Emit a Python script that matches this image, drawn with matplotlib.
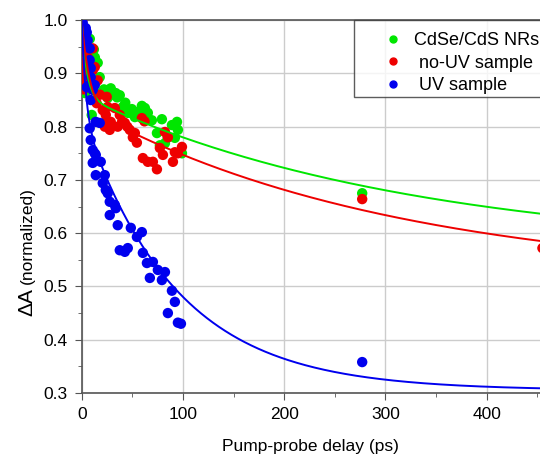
import matplotlib
matplotlib.use("Agg")
import matplotlib.pyplot as plt
from matplotlib.lines import Line2D
from matplotlib.ticker import MultipleLocator, FormatStrFormatter
import numpy as np

plt.rcParams['font.family'] = ['Liberation Sans', 'DejaVu Sans']

# --- measured points (delay in ps, normalized dA) ---
green_t = [1, 2, 3.3, 4.5, 6, 8, 9.9, 12, 13, 15.8, 17.8, 18.8, 22, 25.7, 27.7, 28.7, 31,
           33.7, 35, 37.6, 40.6, 43, 45.5, 49.5, 52.5, 56, 59.4, 62.4, 65.3, 69.3, 74.3,
           77.2, 79.2, 82.2, 85, 89.1, 92, 94.1, 95, 99, 277]
green_v = [0.875, 0.88, 0.863, 0.87, 0.9, 0.965, 0.822, 0.945, 0.93, 0.92, 0.893, 0.863,
           0.87, 0.854, 0.869, 0.872, 0.86, 0.863, 0.855, 0.859, 0.837, 0.845, 0.826, 0.833,
           0.818, 0.828, 0.839, 0.835, 0.826, 0.812, 0.788, 0.765, 0.814, 0.769, 0.78, 0.803,
           0.779, 0.809, 0.794, 0.75, 0.675]

red_t = [0.5, 1, 1.5, 2, 2.5, 3, 1, 2, 3.5, 4, 5, 6, 8, 10.9, 10.9, 12.9, 15.8, 14.8, 18,
         20.8, 22.8, 22.8, 23.8, 24.7, 25.7, 27.7, 28.7, 32.7, 35.6, 37.6, 40, 42.6, 45,
         47.5, 50.5, 52.5, 54.5, 59.4, 60.4, 62, 65.3, 70.3, 74.3, 77.2, 80.2, 82.2, 85.1,
         90.1, 92, 95, 99, 277, 455]
red_v = [1.0, 0.98, 0.96, 0.94, 0.92, 0.9, 0.89, 0.87, 0.95, 0.91, 0.88, 0.93, 0.9, 0.947,
         0.906, 0.912, 0.887, 0.844, 0.86, 0.831, 0.807, 0.8, 0.822, 0.856, 0.837, 0.794,
         0.809, 0.835, 0.8, 0.822, 0.81, 0.807, 0.8, 0.794, 0.78, 0.788, 0.77, 0.816, 0.741,
         0.81, 0.734, 0.734, 0.72, 0.76, 0.747, 0.79, 0.78, 0.734, 0.752, 0.75, 0.762,
         0.664, 0.572]

blue_t = [1, 2, 3, 4, 5, 5.9, 7.9, 7.9, 8.9, 8.9, 7.9, 5, 12.9, 10.9, 8.9, 13.9, 17.8, 7.9,
          8.9, 10.9, 12.9, 13.9, 10.9, 18.8, 13.9, 22.8, 20.8, 23.8, 25.7, 27.7, 32.7, 33.7,
          27.7, 35.6, 48.5, 59.4, 54.5, 37.6, 42.6, 45.5, 60.4, 64.4, 70.3, 75.2, 82.2, 67.3,
          79.2, 89.1, 92, 85.1, 95, 98, 277]
blue_v = [0.995, 0.975, 0.96, 0.985, 0.977, 0.962, 0.947, 0.925, 0.91, 0.893, 0.878, 0.874,
          0.878, 0.869, 0.85, 0.809, 0.807, 0.797, 0.775, 0.756, 0.75, 0.747, 0.732, 0.734,
          0.709, 0.709, 0.694, 0.681, 0.675, 0.659, 0.653, 0.647, 0.634, 0.615, 0.61, 0.602,
          0.593, 0.568, 0.565, 0.572, 0.563, 0.544, 0.546, 0.531, 0.527, 0.516, 0.512,
          0.492, 0.471, 0.45, 0.432, 0.43, 0.358]

# biexponential fit parameters: y0, A_slow, tau_slow, A_fast, tau_fast
green_fit = [0.564, 0.294, 324, 0.14, 5]
red_fit = [0.51, 0.328, 308, 0.16, 8]
blue_fit = [0.305, 0.52, 92, 0.175, 4]

labels = ['CdSe/CdS NRs', ' no-UV sample', ' UV sample']
colors = ['#00e600', '#ee0000', '#0000ee']


def fit_curve(t, p):
    y0, a1, tau1, a2, tau2 = p
    return y0 + a1 * np.exp(-t / tau1) + a2 * np.exp(-t / tau2)


fig = plt.figure(figsize=(5.4, 4.58), dpi=100)
ax = fig.add_axes([0.1513, 0.142, 0.8487, 0.814])

series = [(green_t, green_v, green_fit), (red_t, red_v, red_fit), (blue_t, blue_v, blue_fit)]
for (t, v, p), c in zip(series, colors):
    ax.scatter(t, v, s=56, color=c, edgecolors='none', zorder=3)

tt = np.linspace(0, 460, 800)
for (t, v, p), c in zip(series, colors):
    ax.plot(tt, fit_curve(tt, p), color=c, lw=1.4, zorder=4)

ax.set_xlim(0, 452.6)
ax.set_ylim(0.3, 1.0)
ax.xaxis.set_major_locator(MultipleLocator(100))
ax.xaxis.set_minor_locator(MultipleLocator(50))
ax.yaxis.set_major_locator(MultipleLocator(0.1))
ax.yaxis.set_minor_locator(MultipleLocator(0.05))
ax.yaxis.set_major_formatter(FormatStrFormatter('%.1f'))
ax.grid(True, which='major', color='#cccccc', lw=1.0, zorder=0)
ax.set_axisbelow(True)

for s in ['left', 'bottom', 'top']:
    ax.spines[s].set_color('#555555')
    ax.spines[s].set_linewidth(1.2)
ax.spines['right'].set_visible(False)
ax.tick_params(which='both', direction='out', color='#555555', labelsize=12.5,
               top=False, right=False)
ax.tick_params(which='major', length=5, pad=5)
ax.tick_params(which='minor', length=3)

ax.set_xlabel('Pump-probe delay (ps)', fontsize=12.5, labelpad=12)
fig.text(0.05, 0.341, 'ΔA', rotation=90, fontsize=15, ha='center', va='center')
fig.text(0.05, 0.485, '(normalized)', rotation=90, fontsize=12.5, ha='center', va='center')

handles = [Line2D([], [], ls='none', marker='o', ms=5, color=c) for c in colors]
leg = ax.legend(handles, labels, loc='upper left', bbox_to_anchor=(0.5945, 1.0),
                fontsize=13, frameon=True, fancybox=False, borderpad=0.15,
                handlelength=3.95, handletextpad=-0.81, labelspacing=0.3,
                borderaxespad=0, title=' ', title_fontsize=3)
leg.get_frame().set_edgecolor('#333333')
leg.get_frame().set_linewidth(1.0)

fig.savefig('out.png', dpi=100)
